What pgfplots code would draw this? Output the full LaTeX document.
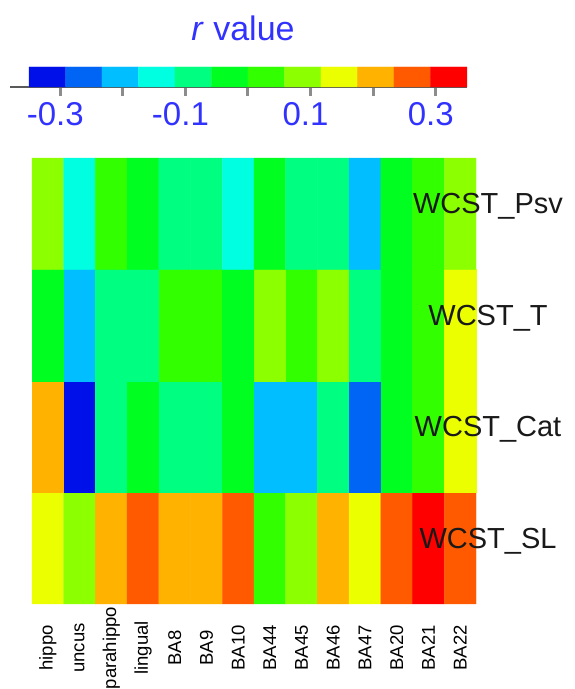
\documentclass[border=0pt]{standalone}
\usepackage{pgfplots}
\pgfplotsset{compat=1.18}
\usepackage{pgfplotstable}
\usepackage{fontspec}
\setmainfont{Liberation Sans}
\definecolor{lblblue}{RGB}{50,50,255}

\pgfplotsset{
  rjet/.style={
    colormap={rjet}{
      rgb255=(0,16,232) rgb255=(0,100,245) rgb255=(0,190,255) rgb255=(0,255,224)
      rgb255=(0,255,128) rgb255=(0,255,32) rgb255=(50,255,0) rgb255=(140,255,0)
      rgb255=(236,255,0) rgb255=(255,178,0) rgb255=(255,90,0) rgb255=(255,0,0)},
    point meta min=-0.32083, point meta max=0.32083,
  }
}

% heatmap: x = region index, y = row (0 = WCST_SL ... 3 = WCST_Psv), r value
\pgfplotstableread{
x y r
0 0 0.14583
1 0 0.0875
2 0 0.20417
3 0 0.2625
4 0 0.20417
5 0 0.20417
6 0 0.2625
7 0 0.02917
8 0 0.0875
9 0 0.20417
10 0 0.14583
11 0 0.2625
12 0 0.32083
13 0 0.2625
0 1 0.20417
1 1 -0.32083
2 1 -0.0875
3 1 -0.02917
4 1 -0.0875
5 1 -0.0875
6 1 -0.02917
7 1 -0.20417
8 1 -0.20417
9 1 -0.0875
10 1 -0.2625
11 1 -0.02917
12 1 0.02917
13 1 0.14583
0 2 -0.02917
1 2 -0.20417
2 2 -0.0875
3 2 -0.0875
4 2 0.02917
5 2 0.02917
6 2 -0.02917
7 2 0.0875
8 2 0.02917
9 2 0.0875
10 2 -0.0875
11 2 -0.02917
12 2 0.02917
13 2 0.14583
0 3 0.0875
1 3 -0.14583
2 3 0.02917
3 3 -0.02917
4 3 -0.0875
5 3 -0.0875
6 3 -0.14583
7 3 -0.02917
8 3 -0.0875
9 3 -0.0875
10 3 -0.20417
11 3 -0.02917
12 3 0.02917
13 3 0.0875
}\heat

% colour key: 12 bins from -0.35 to 0.35
\pgfplotstableread{
x y r
-0.32083 0 -0.32083
-0.2625 0 -0.2625
-0.20417 0 -0.20417
-0.14583 0 -0.14583
-0.0875 0 -0.0875
-0.02917 0 -0.02917
0.02917 0 0.02917
0.0875 0 0.0875
0.14583 0 0.14583
0.20417 0 0.20417
0.2625 0 0.2625
0.32083 0 0.32083
-0.32083 1 -0.32083
-0.2625 1 -0.2625
-0.20417 1 -0.20417
-0.14583 1 -0.14583
-0.0875 1 -0.0875
-0.02917 1 -0.02917
0.02917 1 0.02917
0.0875 1 0.0875
0.14583 1 0.14583
0.20417 1 0.20417
0.2625 1 0.2625
0.32083 1 0.32083
}\key

\begin{document}
\begin{tikzpicture}
\path[use as bounding box] (0,0) rectangle (574pt,689pt);

% ---------- heatmap ----------
\begin{axis}[
  rjet,
  at={(32pt,85pt)}, anchor=south west,
  scale only axis, width=444pt, height=446pt,
  xmin=-0.5, xmax=13.5, ymin=-0.5, ymax=3.5,
  axis line style={draw=none},
  major tick length=0pt,
  ytick=\empty,
  xtick={0,...,13},
  xticklabels={hippo,uncus,parahippo,lingual,BA8,BA9,BA10,BA44,BA45,BA46,BA47,BA20,BA21,BA22},
  xticklabel style={rotate=90, anchor=center, font=\fontsize{18.5}{20}\selectfont, text=black},
  xticklabel shift=44pt,
  clip=false,
]
\addplot[matrix plot*, mesh/cols=14, mesh/rows=4, point meta=explicit]
  table[x=x, y=y, meta=r] {\heat};
\node[anchor=base, font=\fontsize{29}{32}\selectfont, text=black!90] at ([xshift=12pt]axis cs:13.5,3) {WCST\_Psv};
\node[anchor=base, font=\fontsize{29}{32}\selectfont, text=black!90] at ([xshift=12pt]axis cs:13.5,2) {WCST\_T};
\node[anchor=base, font=\fontsize{29}{32}\selectfont, text=black!90] at ([xshift=12pt]axis cs:13.5,1) {WCST\_Cat};
\node[anchor=base, font=\fontsize{29}{32}\selectfont, text=black!90] at ([xshift=12pt]axis cs:13.5,0) {WCST\_SL};
\end{axis}

% ---------- colour key ----------
\begin{axis}[
  rjet,
  at={(29pt,602pt)}, anchor=south west,
  scale only axis, width=438pt, height=20pt,
  xmin=-0.35, xmax=0.35, ymin=-0.5, ymax=1.5,
  axis x line*=bottom, axis y line=none,
  x axis line style={draw=black!65, line width=1.2pt, -},
  xtick={-0.3,-0.2,-0.1,0,0.1,0.2,0.3},
  xticklabels={-0.3,,-0.1,,0.1,,0.3},
  xtick align=outside,
  major tick length=9pt,
  xtick style={draw=black!45, line width=3pt},
  xticklabel style={font=\fontsize{33}{36}\selectfont, text=lblblue, inner sep=0pt, anchor=north, xshift=-5pt},
  xticklabel shift=6pt,
  clip=false,
]
\addplot[matrix plot*, mesh/cols=12, mesh/rows=2, point meta=explicit]
  table[x=x, y=y, meta=r] {\key};
\draw[black!65, line width=1.2pt] (axis cs:-0.38,-0.5) -- (axis cs:-0.35,-0.5);
\end{axis}

\node[font=\fontsize{34}{38}\selectfont, text=lblblue] at (243pt,661pt) {\textit{r} value};
\end{tikzpicture}
\end{document}
